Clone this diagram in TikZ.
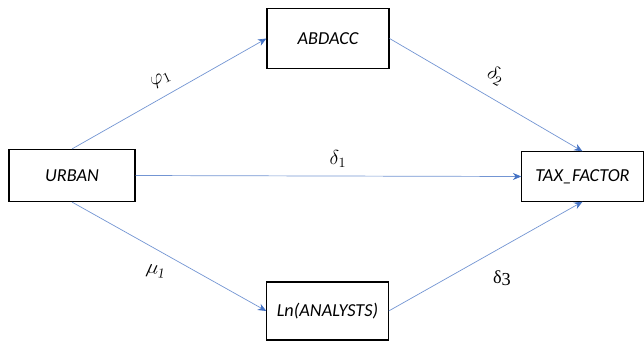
\documentclass[tikz,border=0pt]{standalone}
\usepackage{fontspec}
\setmainfont{Carlito}
\newfontfamily\greekserif{Liberation Serif}
\usetikzlibrary{arrows.meta}
\definecolor{linkblue}{RGB}{68,114,196}

\begin{document}
\begin{tikzpicture}[x=0.025cm,y=-0.025cm,
        var/.style={draw, line width=0.8pt, inner sep=0pt, font=\fontsize{13}{15}\selectfont\itshape},
        link/.style={draw=linkblue!75, line width=0.5pt, -{Stealth[length=6pt,width=5pt,color=linkblue]}},
        coef/.style={font=\fontsize{14.5}{16}\selectfont}]
    \useasboundingbox (0,0) rectangle (644,344);

    % variables
    \node[var, minimum width=3.15cm, minimum height=1.3cm] (urban) at (72,175.5) {URBAN};
    \node[var, minimum width=3.05cm, minimum height=1.48cm] (abdacc) at (328,38.5) {ABDACC};
    \node[var, minimum width=3.03cm, minimum height=1.45cm] (analysts) at (327.5,311) {Ln(ANALYSTS)};
    \node[var, minimum width=3.03cm, minimum height=1.23cm] (tax) at (582.5,176.5) {TAX\_FACTOR};

    % paths
    \draw[link] (urban.north) -- (abdacc.west);
    \draw[link] (abdacc.east) -- (tax.north);
    \draw[link] (urban.east) -- (tax.west);
    \draw[link] (urban.south) -- (analysts.west);
    \draw[link] (analysts.east) -- (tax.south);

    % coefficients
    \node[coef, rotate=25] (phi) at (161,80) {$\varphi_1$};
    \node[coef, rotate=-30] (d2) at (496,76) {$\delta_2$};
    \node[coef] (d1) at (338,159) {$\delta_1$};
    \node[coef, rotate=-10] (mu) at (156,272) {$\mu_1$};
    \node[font=\fontsize{13}{15}\greekserif] (d3) at (502,278) {δ\raisebox{-0.25ex}{3}};
\end{tikzpicture}
\end{document}
